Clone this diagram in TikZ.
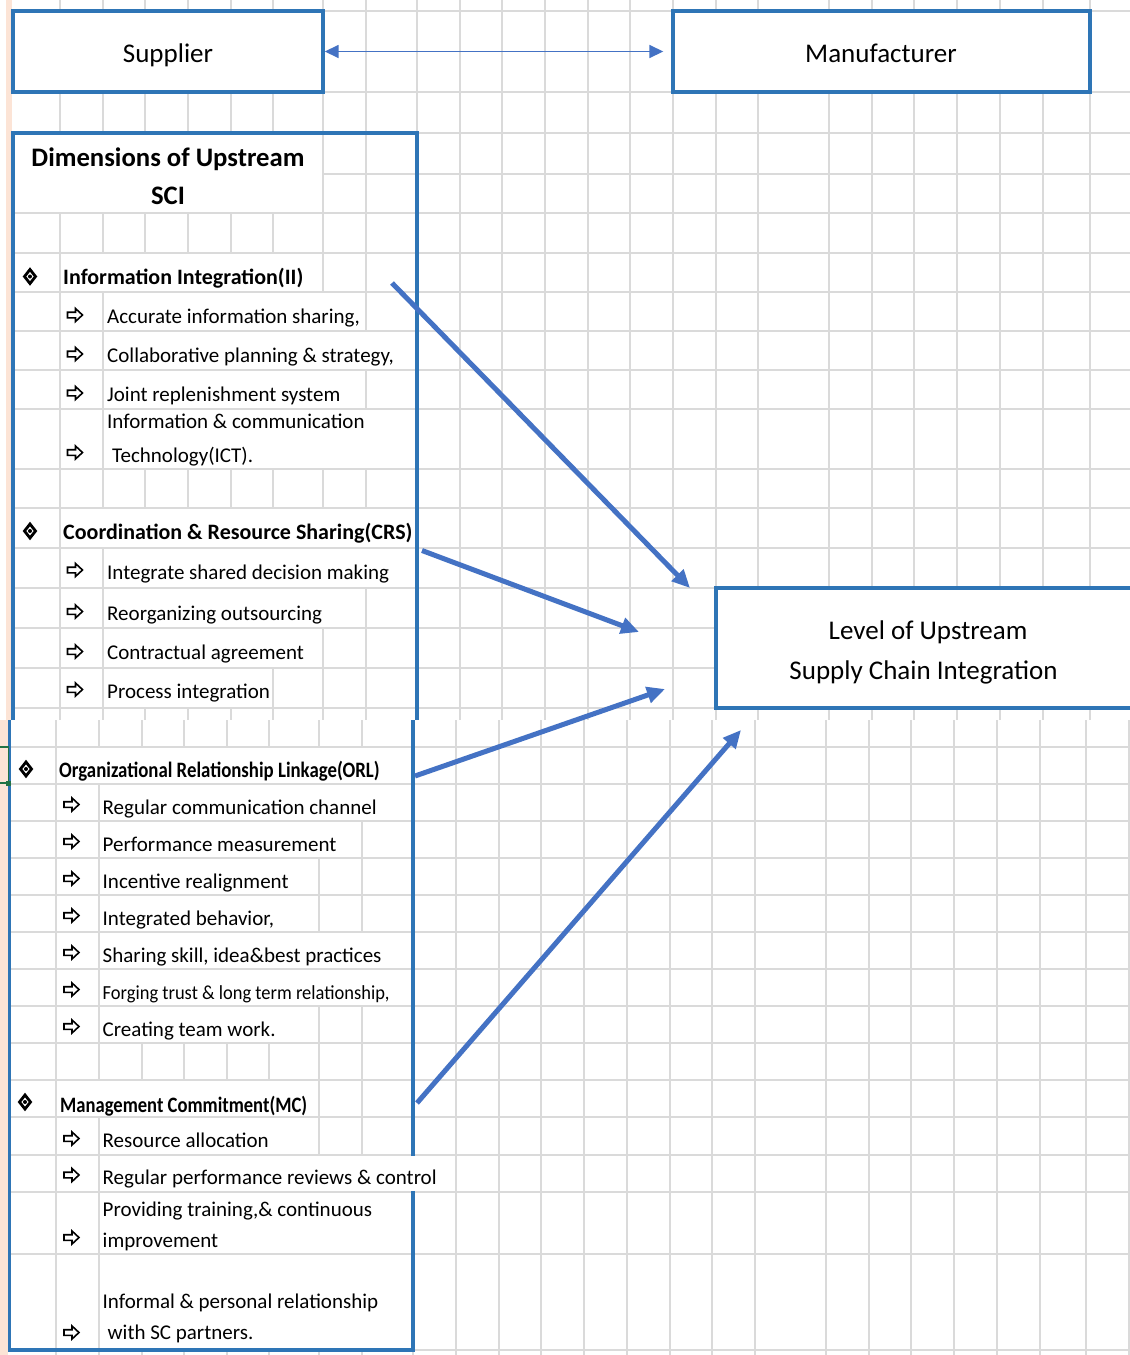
\documentclass[tikz,border=0pt]{standalone}
\usepackage{fontspec}
\setmainfont{Carlito}
\usepackage{graphicx}
\usetikzlibrary{arrows.meta}
\definecolor{boxblue}{RGB}{46,117,182}
\definecolor{arrblue}{RGB}{68,114,196}
\definecolor{gridgray}{RGB}{218,218,218}
\definecolor{peach}{RGB}{252,228,214}
\definecolor{selgreen}{RGB}{33,115,70}
\begin{document}
\begin{tikzpicture}[x=1pt,y=-1pt,
  gridline/.style={draw=gridgray, line width=1.3},
  boxline/.style={draw=boxblue, line width=3.4},
  bigarrow/.style={draw=arrblue, line width=5, -{Triangle[length=18,width=16]}},
  thinarrow/.style={draw=arrblue, line width=1.6, {Triangle[length=14,width=13]}-{Triangle[length=14,width=13]}},
  titletext/.style={font=\fontsize{27}{32}\selectfont, anchor=base, inner sep=0},
  headtext/.style={font=\bfseries\fontsize{22}{26}\selectfont, anchor=base west, inner sep=0},
  itemtext/.style={font=\fontsize{21}{25}\selectfont, anchor=base west, inner sep=0},
  diabullet/.pic={\draw[line width=2.8, fill=white, line join=miter] (0,-7) -- (5.5,0) -- (0,7) -- (-5.5,0) -- cycle; \fill (0,0) circle (2);},
  warrow/.pic={\draw[line width=1.6, line join=miter, fill=white] (-7.5,-2.8) -- (0.5,-2.8) -- (0.5,-6.5) -- (7.5,0) -- (0.5,6.5) -- (0.5,2.8) -- (-7.5,2.8) -- cycle;},
]
\useasboundingbox (0,0) rectangle (1130,1355);
\clip (0,0) rectangle (1130,1355);
\fill[white] (0,0) rectangle (1130,1355);

% ---------- grid, upper sheet ----------
\foreach \x in {60,103,145,188,231,273,323,366,417,460,502,545,588,630,673,716,758,829,872,914,957,1000,1043,1090}
  \draw[gridline] (\x,0) -- (\x,720);
\foreach \y in {11,92,133,174,213,253,292,331,370,409,469,508,548,588,628,668,708}
  \draw[gridline] (13,\y) -- (1130,\y);
% ---------- grid, lower sheet ----------
\foreach \x in {56,99,142,184,227,269,319,362,413,456,499,541,584,627,670,712,755,826,869,911,954,997,1040,1086,1129}
  \draw[gridline] (\x,720) -- (\x,1355);
\foreach \y in {747,784,821,858,895,932,969,1006,1043,1080,1117,1155,1192,1254,1350}
  \draw[gridline] (9,\y) -- (1130,\y);

% cells covered by overflowing text
\foreach \a/\b/\c/\d in {14/134/322/212, 61/254/322/291, 104/293/365/330, 104/332/416/369,
  104/371/365/408, 104/410/416/468, 61/509/416/547, 104/549/416/587, 104/589/365/627,
  104/629/322/667, 104/669/272/707,
  57/748/412/783, 100/785/412/820, 100/822/361/857, 100/859/318/894, 100/896/318/931,
  100/933/412/968, 100/970/412/1005, 100/1007/318/1042, 57/1081/318/1116, 100/1118/318/1154,
  100/1193/412/1253, 100/1255/412/1349}
  \fill[white] (\a,\b) rectangle (\c,\d);

% left strip
\fill[peach] (6,0) rectangle (11.5,720);
\fill[peach] (0,720) rectangle (8,1355);

% ---------- boxes ----------
\node[boxline, fill=white, minimum width=310, minimum height=81, inner sep=0] (sup) at (168,51.5) {};
\node[boxline, fill=white, minimum width=417, minimum height=81, inner sep=0] (man) at (881.5,51.5) {};
\node[boxline, fill=white, minimum width=430, minimum height=120, inner sep=0] (lvl) at (931,648) {};
\draw[boxline] (13,720) -- (13,133) -- (417,133) -- (417,720);
\draw[boxline] (9.5,720) -- (9.5,1350) -- (413,1350) -- (413,720);
\fill[white] (100,1156) rectangle (446,1191);

% selection marker
\draw[selgreen, line width=1.5] (0,747) -- (8.5,747) -- (8.5,783) -- (0,783);
\fill[selgreen] (5.5,780.5) rectangle (10.5,785.5);

% ---------- texts ----------
\node[titletext] (suptext) at (168,62) {Supplier};
\node[titletext] (mantext) at (881,62) {Manufacturer};
\node[titletext] (lvltextA) at (928,639.5) {Level of Upstream};
\node[titletext] (lvltextB) at (923.5,679) {Supply Chain Integration};
\node[font=\bfseries\fontsize{26.7}{30}\selectfont, anchor=base, inner sep=0] (dimA) at (168,166) {Dimensions of Upstream};
\node[font=\bfseries\fontsize{26.7}{30}\selectfont, anchor=base, inner sep=0] (dimB) at (168,204) {SCI};

\pic at (30,276.5) {diabullet};
\node[headtext] (ii) at (63,284) {Information Integration(II)};
\node[itemtext] (ii1) at (107,323) {Accurate information sharing,};
\node[itemtext] (ii2) at (107,362) {Collaborative planning \& strategy,};
\node[itemtext] (ii3) at (107,401) {Joint replenishment system};
\node[itemtext] (ii4a) at (107,428) {Information \& communication};
\node[itemtext] (ii4b) at (112,462) {Technology(ICT).};
\foreach \y in {315,354,393,452.5} \pic at (75,\y) {warrow};

\pic at (30,531) {diabullet};
\node[headtext] (crs) at (63,539.5) {Coordination \& Resource Sharing(CRS)};
\node[itemtext] (crs1) at (107,579) {Integrate shared decision making};
\node[itemtext] (crs2) at (107,620) {Reorganizing outsourcing};
\node[itemtext] (crs3) at (107,659) {Contractual agreement};
\node[itemtext] (crs4) at (107,698) {Process integration};
\foreach \y in {570,611.5,651.5,689.5} \pic at (75,\y) {warrow};

\pic at (26,769) {diabullet};
\node[headtext] (orl) at (59,777.5) {\scalebox{0.855}[1]{Organizational Relationship Linkage(ORL)}};
\node[itemtext] (orl1) at (102.5,814) {Regular communication channel};
\node[itemtext] (orl2) at (102.5,851) {Performance measurement};
\node[itemtext] (orl3) at (102.5,888) {Incentive realignment};
\node[itemtext] (orl4) at (102.5,925) {Integrated behavior,};
\node[itemtext] (orl5) at (102.5,962) {Sharing skill, idea\&best practices};
\node[itemtext] (orl6) at (102.5,999) {\scalebox{0.88}[0.95]{Forging trust \& long term relationship,}};
\node[itemtext] (orl7) at (102.5,1036) {Creating team work.};
\foreach \y in {804.5,841.5,878.5,915.5,952.5,989.5,1026.5} \pic at (71.5,\y) {warrow};

\pic at (25,1102) {diabullet};
\node[headtext] (mc) at (60,1112) {\scalebox{0.845}[1]{Management Commitment(MC)}};
\node[itemtext] (mc1) at (102.5,1147.5) {Resource allocation};
\node[itemtext] (mc2) at (102.5,1184) {Regular performance reviews \& control};
\node[itemtext] (mc3a) at (102.5,1216) {Providing training,\& continuous};
\node[itemtext] (mc3b) at (102.5,1247) {improvement};
\node[itemtext] (mc4a) at (102.5,1308.5) {Informal \& personal relationship};
\node[itemtext] (mc4b) at (107.5,1339.5) {with SC partners.};
\foreach \y in {1138.5,1175,1237.5,1332.5} \pic at (71.5,\y) {warrow};

% ---------- connectors ----------
\draw[thinarrow] (sup.east) -- ([xshift=-8]man.west);
\coordinate (s1) at (392,283);   \coordinate (e1) at (690,588);
\coordinate (s2) at (422,550.5); \coordinate (e2) at (639,632);
\coordinate (s3) at (415,776);   \coordinate (e3) at (665,689);
\coordinate (s4) at (417,1103);  \coordinate (e4) at (741,730);
\draw[bigarrow] (s1) -- (e1);
\draw[bigarrow] (s2) -- (e2);
\draw[bigarrow] (s3) -- (e3);
\draw[bigarrow] (s4) -- (e4);
\end{tikzpicture}
\end{document}
